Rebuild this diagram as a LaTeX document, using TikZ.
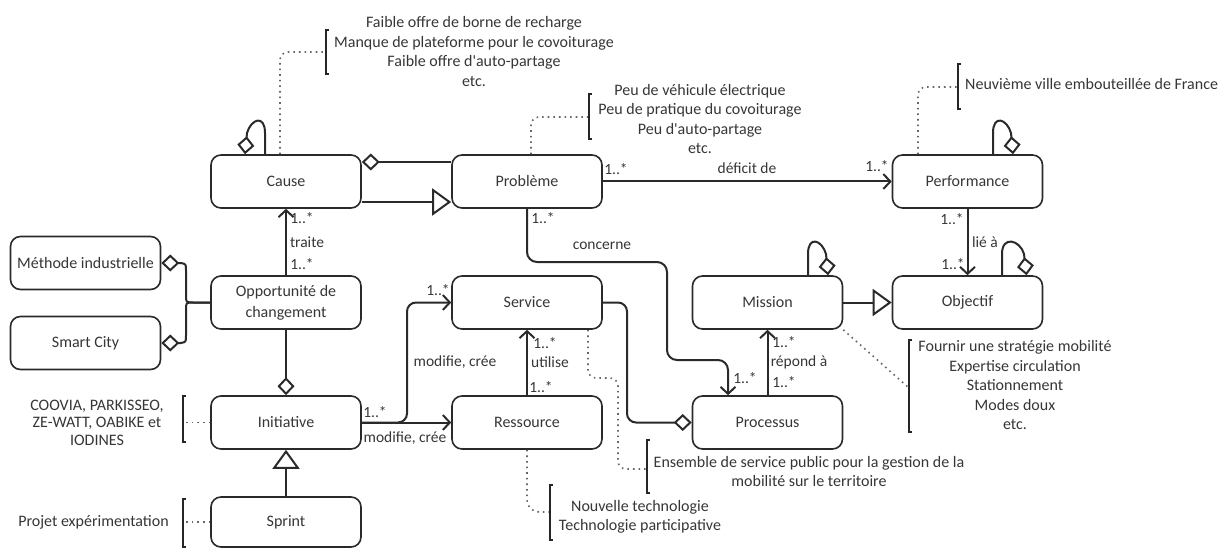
\documentclass[tikz,border=0pt]{standalone}
\usepackage{fontspec}
\setmainfont{Carlito}
\usetikzlibrary{arrows.meta}
\definecolor{ink}{HTML}{2A2A2A}
\definecolor{txt}{HTML}{363636}
\definecolor{dotc}{HTML}{666666}
\begin{document}
\begin{tikzpicture}[x=1pt,y=-1pt,
  box/.style={draw=ink, line width=1.6pt, rounded corners=10pt, minimum width=150pt, minimum height=53pt, text=txt, font=\fontsize{16}{19}\selectfont, align=center, inner sep=0pt},
  conn/.style={draw=ink, line width=2pt},
  barb/.style={-{Straight Barb[length=7pt,width=15pt]}},
  tri/.style={-{Triangle[open,length=19pt,width=27pt]}},
  diaS/.style={{Diamond[open,length=18pt,width=17pt]}-},
  diaE/.style={-{Diamond[open,length=18pt,width=17pt]}},
  lab/.style={text=txt, font=\fontsize{15.5}{17}\selectfont, inner sep=0pt},
  note/.style={text=txt, font=\fontsize{16}{19.5}\selectfont, align=center, inner sep=0pt},
  notelink/.style={draw=dotc, line width=1.6pt, dash pattern=on 1.6pt off 4pt},
  brk/.style={draw=black!85, line width=2.2pt}
]
\useasboundingbox (0,0) rectangle (1223,548);

% ---------- boxes ----------
\node[box] (cause) at (286,181.5) {Cause};
\node[box] (prob) at (527,181.5) {Problème};
\node[box] (perf) at (967.5,181.5) {Performance};
\node[box] (meth) at (85.5,263) {Méthode industrielle};
\node[box] (smart) at (85.5,343) {Smart City};
\node[box, font=\fontsize{16}{21}\selectfont] (opp) at (286,302.5) {Opportunité de\\changement};
\node[box] (serv) at (527,302.5) {Service};
\node[box] (miss) at (767.5,302.5) {Mission};
\node[box] (obj) at (967.5,302.5) {Objectif};
\node[box] (init) at (286,422.5) {Initiative};
\node[box] (ress) at (527,422.5) {Ressource};
\node[box] (proc) at (767.5,422.5) {Processus};
\node[box, minimum height=50pt] (sprint) at (286,522) {Sprint};

% ---------- connectors ----------
\draw[conn, barb] (prob.east) -- (perf.west);
\draw[conn, barb] (perf.south) -- (obj.north);
\draw[conn, tri] (miss.east) -- (obj.west);
\draw[conn, barb] (opp.north) -- (cause.south);
\draw[conn, diaS] ([yshift=19.5pt]cause.east) -- ([yshift=19.5pt]prob.west);
\draw[conn, tri] ([yshift=-20.5pt]cause.east) -- ([yshift=-20.5pt]prob.west);
\draw[conn, diaS] (meth.east) -- (181,263) .. controls (186,264) .. (186,271) -- (186,295) .. controls (186,302.5) .. (193,302.5) -- (opp.west);
\draw[conn, diaS] (smart.east) -- (181,343) .. controls (186,342) .. (186,335) -- (186,310) .. controls (186,302.5) .. (193,302.5) -- (opp.west);
\draw[conn, diaE] (opp.south) -- (init.north);
\draw[conn, tri] (sprint.north) -- (init.south);
\draw[conn, barb] (init.east) -- (ress.west);
\draw[conn, barb, rounded corners=9pt] (init.east) -- (407,422.5) |- (serv.west);
\draw[conn, barb] (ress.north) -- (serv.south);
\draw[conn, diaE, rounded corners=9pt] (serv.east) -- (627,302.5) |- (proc.west);
\draw[conn, barb, rounded corners=10pt] (prob.south) |- (667,262) |- (728,360) -- ([xshift=-39.5pt]proc.north);
\draw[conn, barb] (proc.north) -- (miss.south);

% self aggregations
\draw[conn, diaS] ([xshift=-41pt]cause.north) -- (247,133) .. controls (251,119) and (265,114) .. (265,133) -- ([xshift=-21pt]cause.north);
\draw[conn, diaS] ([xshift=45.5pt]perf.north) -- (1011,133) .. controls (1007,119) and (993,114) .. (993,133) -- ([xshift=25.5pt]perf.north);
\draw[conn, diaS] ([xshift=60.5pt]miss.north) -- (826,254) .. controls (822,240) and (808,235) .. (808,254) -- ([xshift=40.5pt]miss.north);
\draw[conn, diaS] ([xshift=59pt]obj.north) -- (1024,254) .. controls (1020,240) and (1002,235) .. (1002,254) -- ([xshift=34.5pt]obj.north);

% ---------- labels ----------
\node[lab] (l1) at (616,169) {1..*};
\node[lab] (l2) at (747,168) {déficit de};
\node[lab] (l3) at (877,166) {1..*};
\node[lab] (l4) at (952,219) {1..*};
\node[lab] (l5) at (985,242) {lié à};
\node[lab] (l6) at (953,264) {1..*};
\node[lab] (l7) at (302,218) {1..*};
\node[lab] (l8) at (307,242) {traite};
\node[lab] (l9) at (302,264) {1..*};
\node[lab] (l10) at (375,412) {1..*};
\node[lab] (l11) at (405,438) {modifie, crée};
\node[lab] (l12) at (438,290) {1..*};
\node[lab] (l13) at (455,362) {modifie, crée};
\node[lab] (l14) at (545,343) {1..*};
\node[lab] (l15) at (550,362) {utilise};
\node[lab] (l16) at (541,387) {1..*};
\node[lab] (l17) at (543,218) {1..*};
\node[lab] (l18) at (602,246) {concerne};
\node[lab] (l19) at (745,378) {1..*};
\node[lab] (l20) at (784,342) {1..*};
\node[lab] (l21) at (799,362) {répond à};
\node[lab] (l22) at (784,382) {1..*};

% ---------- notes ----------
\coordinate (b1) at (326,52);
\coordinate (b2) at (589,117);
\coordinate (b3) at (958,87);
\coordinate (b4) at (183,422.5);
\coordinate (b5) at (183,522);
\coordinate (b6) at (647,469);
\coordinate (b7) at (550,512);
\coordinate (b8) at (909,388);

\draw[notelink, rounded corners=8pt] ([xshift=-6pt]cause.north) -- (280,52) -- (b1);
\draw[notelink, rounded corners=8pt] ([xshift=4pt]prob.north) -- (531,117) -- (b2);
\draw[notelink, rounded corners=8pt] ([xshift=-49.5pt]perf.north) -- (918,87) -- (b3);
\draw[notelink] (init.west) -- (b4);
\draw[notelink] (sprint.west) -- (b5);
\draw[notelink, rounded corners=8pt] ([xshift=61pt]serv.south) -- (588,378) -- (618,378) -- (618,469) -- (b6);
\draw[notelink, rounded corners=12pt] (ress.south) -- (527,512) -- (b7);
\draw[notelink] (miss.south east) -- (b8);

\draw[brk] (329,30) -- (326,30) -- (326,74) -- (329,74);
\draw[brk] (592,94) -- (589,94) -- (589,139) -- (592,139);
\draw[brk] (961,64) -- (958,64) -- (958,109) -- (961,109);
\draw[brk] (186,396) -- (183,396) -- (183,442) -- (186,442);
\draw[brk] (186,499) -- (183,499) -- (183,547) -- (186,547);
\draw[brk] (650,440) -- (647,440) -- (647,493) -- (650,493);
\draw[brk] (553,485) -- (550,485) -- (550,540) -- (553,540);
\draw[brk] (912,340) -- (909,340) -- (909,432) -- (912,432);

\node[note] (t1) at (474,51.5) {Faible offre de borne de recharge\\Manque de plateforme pour le covoiturage\\Faible offre d\textquotesingle auto-partage\\etc.};
\node[note] (t2) at (700,119) {Peu de véhicule électrique\\Peu de pratique du covoiturage\\Peu d\textquotesingle auto-partage\\etc.};
\node[note, anchor=west] (t3) at (965,84) {Neuvième ville embouteillée de France};
\node[note, font=\fontsize{16}{17.5}\selectfont] (t4) at (97,422.5) {COOVIA, PARKISSEO,\\ZE-WATT, OABIKE et\\IODINES};
\node[note] (t5) at (93.5,522) {Projet expérimentation};
\node[note] (t6) at (809,471.5) {Ensemble de service public pour la gestion de la\\mobilité sur le territoire};
\node[note] (t7) at (640,517) {Nouvelle technologie\\Technologie participative};
\node[note] (t8) at (1015,385.5) {Fournir une stratégie mobilité\\Expertise circulation\\Stationnement\\Modes doux\\etc.};
\end{tikzpicture}
\end{document}
